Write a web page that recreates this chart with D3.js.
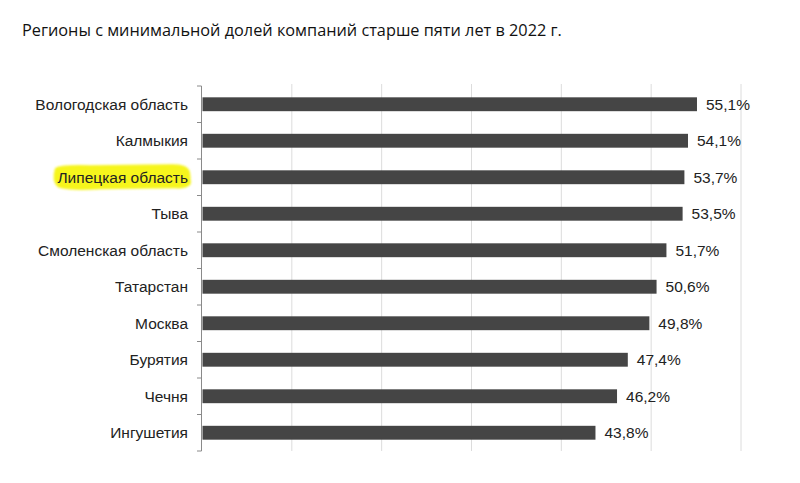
<!DOCTYPE html>
<html><head><meta charset="utf-8">
<script src="https://cdn.jsdelivr.net/npm/d3@7"></script>
<style>body{margin:0;background:#fff}</style>
</head><body>
<svg id="c" width="800" height="483"></svg>
<script>
const title = "Регионы с минимальной долей компаний старше пяти лет в 2022 г.";
const categories = ["Вологодская область","Калмыкия","Липецкая область","Тыва","Смоленская область","Татарстан","Москва","Бурятия","Чечня","Ингушетия"];
const values = [55.1,54.1,53.7,53.5,51.7,50.6,49.8,47.4,46.2,43.8];
const highlighted = ["Липецкая область"];
const gridTicks = [0,10,20,30,40,50,60];

const svg = d3.select("#c");
svg.append("rect").attr("width",800).attr("height",483).attr("fill","#fff");
const defs = svg.append("defs");
defs.append("filter").attr("id","soft").append("feGaussianBlur").attr("stdDeviation",1.2);

svg.append("text").attr("x",22).attr("y",36)
  .attr("font-family","'Open Sans', 'Noto Sans', sans-serif").attr("font-size",16.3)
  .attr("fill","#111").text(title);

const x = d3.scaleLinear().domain([0,60]).range([202,741]);
const y = d3.scaleBand().domain(categories).range([86,451]).paddingInner(0.62).paddingOuter(0.31);

// gridlines
svg.append("g").selectAll("line").data(gridTicks.slice(1)).join("line")
  .attr("x1",d=>x(d)).attr("x2",d=>x(d)).attr("y1",84).attr("y2",451)
  .attr("stroke","#dcdcdc").attr("stroke-width",1);

// highlight
const hl = svg.append("g").attr("filter","url(#soft)");
highlighted.forEach(h=>{
  const cy = y(h)+y.bandwidth()/2;
  hl.append("path")
    .attr("d",`M55,${cy-9} Q60,${cy-13} 90,${cy-12} L170,${cy-13} Q188,${cy-14} 190,${cy-5} L191,${cy+6} Q189,${cy+12} 175,${cy+11} L100,${cy+12} Q70,${cy+14} 58,${cy+10} Q51,${cy+4} 55,${cy-9} Z`)
    .attr("fill","#f6f51c");
});

// y axis
const step = y.step();
const bounds = categories.map(c=>y(c)-(step-y.bandwidth())/2);
bounds.push(451);
const ax = svg.append("g");
ax.append("line").attr("x1",201.5).attr("x2",201.5).attr("y1",86).attr("y2",451).attr("stroke","#8a8a8a");
ax.selectAll("line.t").data(bounds).join("line").attr("class","t")
  .attr("x1",197).attr("x2",201.5).attr("y1",d=>d).attr("y2",d=>d).attr("stroke","#8a8a8a");

// labels
svg.append("g").selectAll("text").data(categories).join("text")
  .attr("x",188).attr("y",d=>y(d)+y.bandwidth()/2).attr("dy","0.35em")
  .attr("text-anchor","end").attr("font-family","'Liberation Sans', Arial, sans-serif")
  .attr("font-size",15.5).attr("fill","#222").text(d=>d);

// bars
svg.append("g").selectAll("rect").data(values).join("rect")
  .attr("x",x(0)+0.5).attr("y",(d,i)=>y(categories[i]))
  .attr("width",d=>x(d)-x(0)-0.5).attr("height",y.bandwidth())
  .attr("fill","#454545");

// value labels
svg.append("g").selectAll("text").data(values).join("text")
  .attr("x",d=>x(d)+9).attr("y",(d,i)=>y(categories[i])+y.bandwidth()/2).attr("dy","0.35em")
  .attr("font-family","'Liberation Sans', Arial, sans-serif").attr("font-size",15.5)
  .attr("fill","#222").text(d=>d.toFixed(1).replace(".",",")+"%");
</script>
</body></html>
